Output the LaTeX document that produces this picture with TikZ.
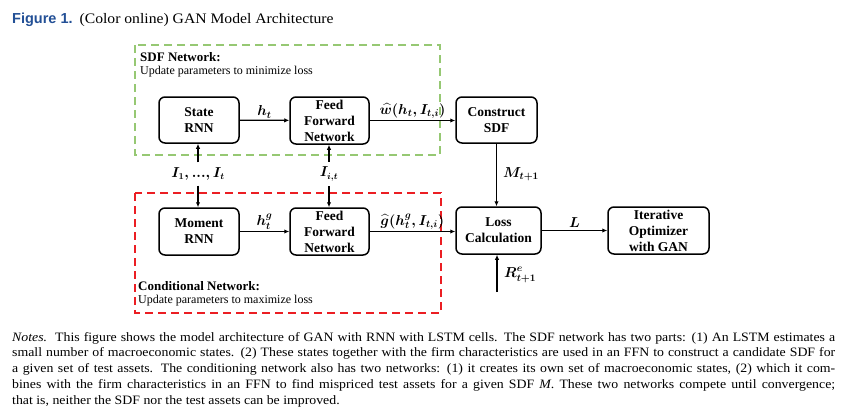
\documentclass[tikz,border=0pt]{standalone}
\usepackage{amsmath,amssymb,bm}
\usepackage{fontspec}
\setmainfont{Liberation Serif}
\newfontfamily\titlesans{Liberation Sans}
\newfontfamily\notefont[FakeStretch=1.08]{Liberation Serif}
\usetikzlibrary{arrows.meta}
\definecolor{figblue}{RGB}{35,80,150}
\definecolor{sdfgreen}{RGB}{150,200,115}
\definecolor{condred}{RGB}{235,30,35}
\begin{document}
\begin{tikzpicture}[x=1pt,y=-1pt,
  blk/.style={draw, line width=1.5pt, rounded corners=6pt, minimum width=80pt, minimum height=46pt,
    align=center, font=\fontsize{13.5}{16}\selectfont\bfseries, inner sep=0pt},
  arr/.style={line width=1.3pt, -{Latex[length=5pt,width=4.5pt]}},
  lbl/.style={font=\fontsize{14}{16}\selectfont\boldmath, inner sep=1pt},
  vlbl/.style={font=\fontsize{13.5}{16}\selectfont\boldmath, inner xsep=1pt, inner ysep=5pt},
  grpbox/.style={line width=1.5pt, dash pattern=on 8pt off 5pt},
  grptitle/.style={anchor=west, inner sep=0pt, font=\fontsize{13}{14}\selectfont\bfseries},
  grpsub/.style={anchor=west, inner sep=0pt, font=\fontsize{12}{14}\selectfont},
  noteline/.style={anchor=base west, inner sep=0pt, font=\notefont\fontsize{12.8}{14}\selectfont}
]
\useasboundingbox (0,0) rectangle (847,413);

% title
\node[anchor=base west, inner sep=0pt] (title) at (12,23)
  {{\titlesans\bfseries\fontsize{14.5}{16}\selectfont\color{figblue}Figure 1.}\hspace{7pt}{\notefont\fontsize{14.5}{16}\selectfont(Color online) GAN Model Architecture}};

% group boxes
\draw[grpbox, draw=sdfgreen] (135,45) rectangle (440,155);
\draw[grpbox, draw=condred, line width=1.8pt] (135,193) rectangle (441,313);
\node[grptitle] (sdft) at (140,57) {SDF Network:};
\node[grpsub] (sdfs) at (140,72) {Update parameters to minimize loss};
\node[grptitle] (condt) at (138,286) {Conditional Network:};
\node[grpsub] (conds) at (138,301) {Update parameters to maximize loss};

% blocks
\node[blk] (state) at (199,120) {State\\RNN};
\node[blk, minimum width=79pt, minimum height=47pt] (ffna) at (329.5,120.5) {Feed\\Forward\\Network};
\node[blk, minimum width=81pt] (sdf) at (496.5,120) {Construct\\SDF};
\node[blk, minimum height=47pt] (moment) at (199,231.5) {Moment\\RNN};
\node[blk, minimum width=79pt, minimum height=47pt] (ffnb) at (329.5,231.5) {Feed\\Forward\\Network};
\node[blk, minimum width=85pt, minimum height=47pt] (loss) at (498.5,230.5) {Loss\\Calculation};
\node[blk, minimum width=101pt, minimum height=47pt] (iter) at (658.5,230.5) {Iterative\\Optimizer\\with GAN};

% horizontal connectors
\draw[arr] (state) -- (ffna) node[lbl, midway, above=0.5pt] (lht) {$h_t$};
\draw[arr] (ffna.east) -- (sdf.west |- ffna.east) node[lbl, midway, above=0.5pt] (lw) {$\widehat{w}(h_t, I_{t,i})$};
\draw[arr] (moment) -- (ffnb) node[lbl, midway, above=0.5pt] (lhg) {$h_t^g$};
\draw[arr] (ffnb.east) -- (loss.west |- ffnb.east) node[lbl, midway, above=0.5pt] (lg) {$\widehat{g}(h_t^g, I_{t,i})$};
\draw[arr] (loss) -- (iter) node[lbl, midway, above=1pt] (ll) {$L$};

% vertical connectors
\node[vlbl] (ii) at (198,174) {$I_{1}{,}\,{.}{.}{.}{,}\,I_{t}$};
\node[vlbl] (iit) at (329,174) {$I_{i,t}$};
\draw[arr] (ii.north) -- (ii.north |- state.south);
\draw[arr] (ii.south) -- (ii.south |- moment.north);
\draw[arr] (iit.north) -- (iit.north |- ffna.south);
\draw[arr] (iit.south) -- (iit.south |- ffnb.north);

\draw[arr] (sdf.south) -- (sdf.south |- loss.north);
\node[lbl, anchor=west] (lm) at (502,174) {$M_{t+1}$};
\coordinate (rin) at (497,292);
\draw[arr] (rin) -- (rin |- loss.south);
\node[lbl, anchor=west] (lr) at (503,275) {$R_{t+1}^e$};

% notes
\node[noteline] (n1) at (12,341) {\makebox[823pt][s]{\textit{Notes.}\ \ This figure shows the model architecture of GAN with RNN with LSTM cells. The SDF network has two parts: (1) An LSTM estimates a}};
\node[noteline] (n2) at (12,356.75) {\makebox[823pt][s]{small number of macroeconomic states. (2) These states together with the firm characteristics are used in an FFN to construct a candidate SDF for}};
\node[noteline] (n3) at (12,372.5) {\makebox[823pt][s]{a given set of test assets. The conditioning network also has two networks: (1) it creates its own set of macroeconomic states, (2) which it com-}};
\node[noteline] (n4) at (12,388.25) {\makebox[823pt][s]{bines with the firm characteristics in an FFN to find mispriced test assets for a given SDF \textit{M}. These two networks compete until convergence;}};
\node[noteline] (n5) at (12,404) {that is, neither the SDF nor the test assets can be improved.};
\end{tikzpicture}
\end{document}
